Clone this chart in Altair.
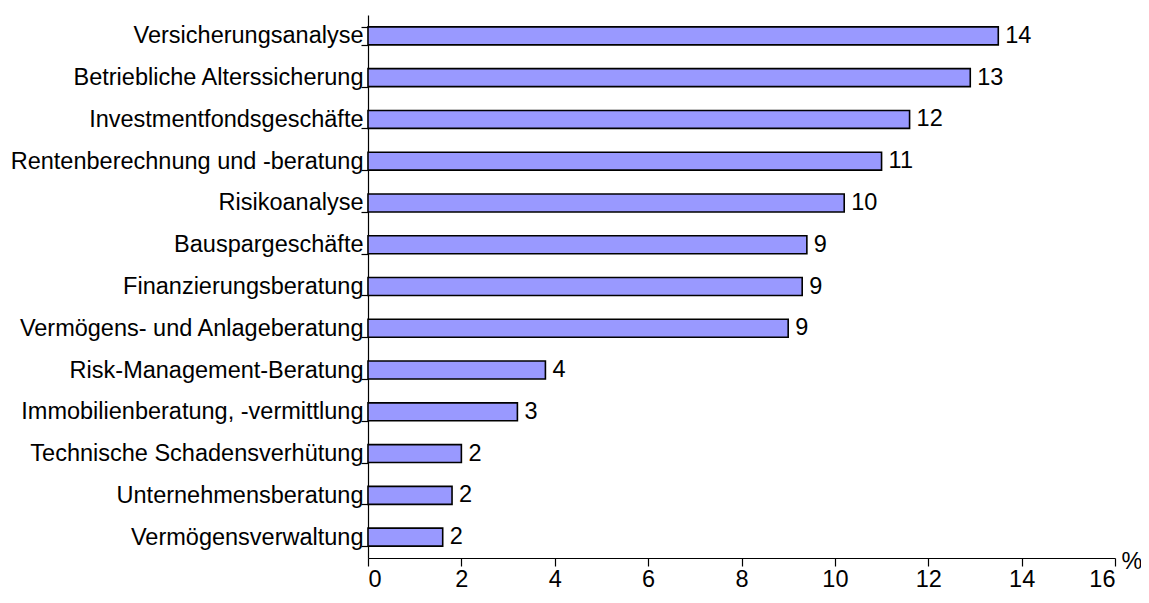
import altair as alt
import pandas as pd

categories = [
    "Versicherungsanalyse",
    "Betriebliche Alterssicherung",
    "Investmentfondsgeschäfte",
    "Rentenberechnung und -beratung",
    "Risikoanalyse",
    "Bauspargeschäfte",
    "Finanzierungsberatung",
    "Vermögens- und Anlageberatung",
    "Risk-Management-Beratung",
    "Immobilienberatung, -vermittlung",
    "Technische Schadensverhütung",
    "Unternehmensberatung",
    "Vermögensverwaltung",
]
values = [13.5, 12.9, 11.6, 11.0, 10.2, 9.4, 9.3, 9.0, 3.8, 3.2, 2.0, 1.8, 1.6]
labels = ["14", "13", "12", "11", "10", "9", "9", "9", "4", "3", "2", "2", "2"]
x_ticks = [0, 2, 4, 6, 8, 10, 12, 14, 16]

df = pd.DataFrame({"cat": categories, "val": values, "lab": labels})

FONT = "Liberation Sans"
FS = 23.5

y_enc = alt.Y(
    "cat:N",
    sort=categories,
    scale=alt.Scale(paddingInner=0.57, paddingOuter=0.285),
    axis=alt.Axis(
        title=None,
        tickBand="extent",
        tickSize=7,
        labelPadding=-2,
        labelFont=FONT,
        labelFontSize=FS,
        labelColor="black",
        domainColor="black",
        tickColor="black",
        domainWidth=1.2,
        tickWidth=1.2,
        labelLimit=400,
    ),
)

x_enc = alt.X(
    "val:Q",
    scale=alt.Scale(domain=[0, 16], nice=False),
    axis=alt.Axis(
        values=x_ticks,
        title="%",
        titleFont=FONT,
        titleFontSize=FS,
        titleFontWeight="normal",
        titleColor="black",
        titleX=753,
        titleY=3,
        titleAlign="left",
        titleBaseline="middle",
        tickSize=8,
        labelPadding=1,
        labelFont=FONT,
        labelFontSize=FS,
        labelColor="black",
        domainColor="black",
        tickColor="black",
        domainWidth=1.2,
        tickWidth=1.2,
        grid=False,
    ),
)

bars = alt.Chart(df).mark_bar(
    color="#9999FF", stroke="black", strokeWidth=1.6
).encode(x=x_enc, y=y_enc)

text = alt.Chart(df).mark_text(
    align="left", baseline="middle", dx=7, font=FONT, fontSize=FS, color="black"
).encode(
    x=alt.X("val:Q"),
    y=alt.Y("cat:N", sort=categories),
    text="lab:N",
)

chart = (
    alt.layer(bars, text)
    .properties(
        width=747,
        height=543,
        autosize=alt.AutoSizeParams(type="none"),
        padding={"left": 360, "top": 7, "right": 26, "bottom": 33},
    )
    .configure_view(stroke=None)
)

chart.save("out.html", embed_options={"renderer": "svg", "actions": False})
